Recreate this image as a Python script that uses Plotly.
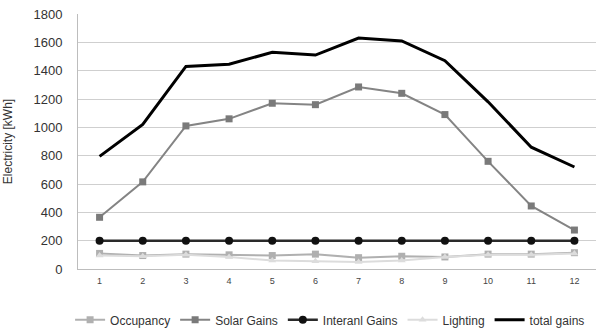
import plotly.graph_objects as go

months = [str(m) for m in range(1, 13)]
occupancy = [110, 95, 105, 100, 95, 105, 80, 90, 85, 105, 105, 115]
solar_gains = [365, 615, 1010, 1060, 1170, 1160, 1285, 1240, 1090, 760, 445, 275]
internal_gains = [200] * 12
lighting = [95, 90, 100, 85, 60, 55, 50, 60, 85, 100, 100, 110]
total_gains = [795, 1020, 1430, 1445, 1530, 1510, 1630, 1610, 1470, 1180, 860, 720]

fig = go.Figure()
fig.add_trace(go.Scatter(x=months, y=occupancy, name="Occupancy", mode="lines+markers",
                         line=dict(color="#b0b0b0", width=2),
                         marker=dict(symbol="square", size=7, color="#b0b0b0")))
fig.add_trace(go.Scatter(x=months, y=solar_gains, name="Solar Gains", mode="lines+markers",
                         line=dict(color="#848484", width=2),
                         marker=dict(symbol="square", size=7, color="#7a7a7a")))
fig.add_trace(go.Scatter(x=months, y=internal_gains, name="Interanl Gains", mode="lines+markers",
                         line=dict(color="#2a2a2a", width=2.5),
                         marker=dict(symbol="circle", size=8, color="#111111")))
fig.add_trace(go.Scatter(x=months, y=lighting, name="Lighting", mode="lines+markers",
                         line=dict(color="#dcdcdc", width=2),
                         marker=dict(symbol="triangle-up", size=7, color="#dcdcdc")))
fig.add_trace(go.Scatter(x=months, y=total_gains, name="total gains", mode="lines",
                         line=dict(color="#000000", width=3)))

fig.update_layout(
    width=598, height=336,
    margin=dict(l=78, r=2, t=14, b=67),
    paper_bgcolor="white", plot_bgcolor="white",
    font=dict(family="Liberation Sans, Arial, sans-serif", color="#333333"),
    showlegend=True,
    legend=dict(orientation="h", xref="container", yref="container",
                x=0.552, xanchor="center", y=0.005, yanchor="bottom",
                font=dict(size=12, color="#333333"), itemwidth=30, tracegroupgap=0),
    xaxis=dict(type="category", range=[-0.5, 11.5], showgrid=False, showline=True,
               linecolor="#bdbdbd", linewidth=1, ticks="",
               tickfont=dict(size=9, color="#444444"),
               ticklabelstandoff=3, automargin=False),
    yaxis=dict(range=[0, 1800], dtick=200, showgrid=True, gridcolor="#cfcfcf", gridwidth=1,
               showline=True, linecolor="#bdbdbd", linewidth=1, zeroline=False,
               tickfont=dict(size=13, color="#333333"), ticks="", ticklabelstandoff=12,
               automargin=False,
               title=dict(text="Electricity [kWh]", font=dict(size=12, color="#333333"),
                          standoff=18)),
)

fig.write_html("out.html")
